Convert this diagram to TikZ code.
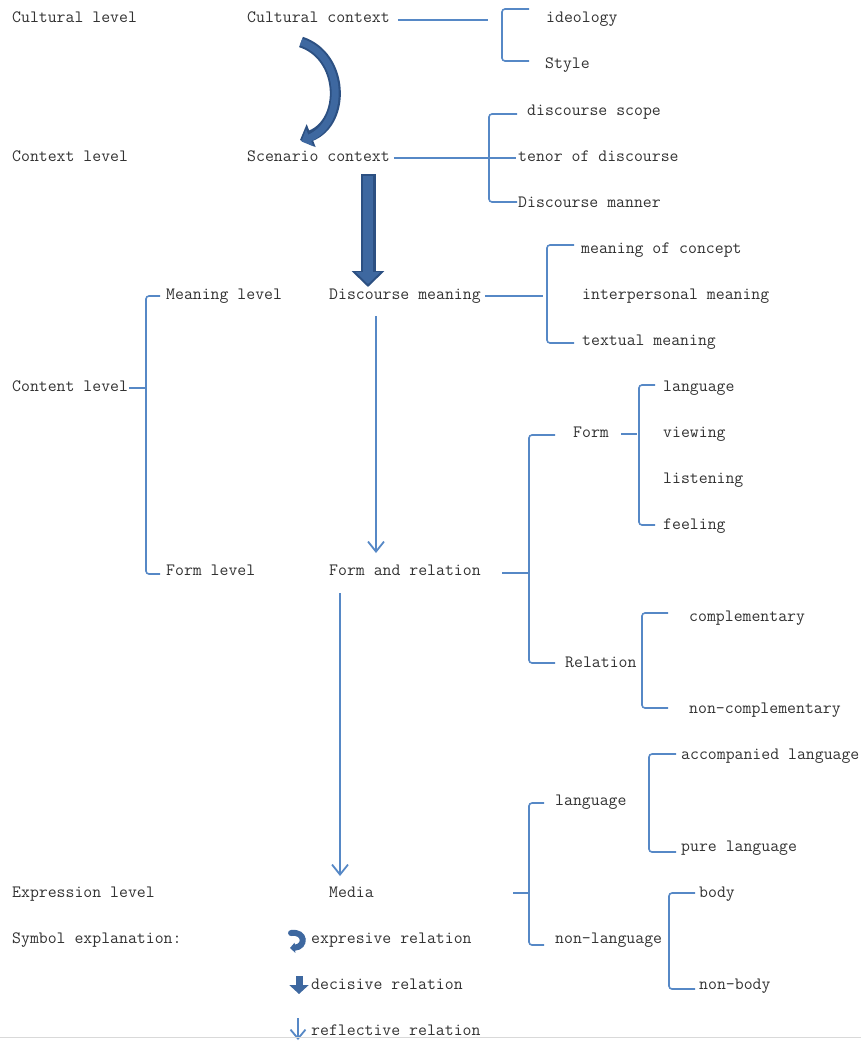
\documentclass[tikz,border=0pt]{standalone}
\usepackage{fontspec}
\usetikzlibrary{arrows.meta}
\definecolor{lb}{RGB}{86,136,198}
\definecolor{db}{RGB}{62,104,160}
\definecolor{dbo}{RGB}{44,80,130}
\definecolor{tx}{RGB}{50,50,50}
\tikzset{
 lbl/.style={anchor=west, inner sep=0pt, yshift=-1pt, text=tx, font=\ttfamily\fontsize{17.3}{17}\selectfont, text height=10.5pt, text depth=4.5pt},
 brk/.style={draw=lb, line width=1.6pt, rounded corners=3pt},
 conn/.style={draw=lb, line width=1.6pt},
 thinarrow/.style={draw=lb, line width=1.8pt, -{Straight Barb[length=10pt,width=16pt,line width=1.8pt]}},
 fatouter/.style={draw=dbo, line width=15pt, -{Triangle[length=16pt,width=32pt,fill=dbo]}},
 fatinner/.style={draw=db, line width=10pt, -{Triangle[length=12pt,width=24pt,fill=db]}},
 curveouter/.style={draw=dbo, line width=11pt, -{Triangle[length=12pt,width=24pt,fill=dbo]}},
 curveinner/.style={draw=db, line width=7pt, -{Triangle[length=9pt,width=18pt,fill=db]}},
}
\begin{document}
\begin{tikzpicture}[x=1pt,y=-1pt]
\useasboundingbox (0,0) rectangle (861,1041);
% labels
\node[lbl] (cl) at (12,19) {Cultural level};
\node[lbl] (cc) at (247,19) {Cultural context};
\node[lbl] (ideo) at (546,19) {ideology};
\node[lbl] (sty) at (545,65) {Style};
\node[lbl] (xl) at (12,157) {Context level};
\node[lbl] (sc) at (247,157) {Scenario context};
\node[lbl] (ds) at (527,111) {discourse scope};
\node[lbl] (td) at (518,157) {tenor of discourse};
\node[lbl] (dman) at (518,203) {Discourse manner};
\node[lbl] (ml) at (166,295) {Meaning level};
\node[lbl] (dm) at (329,295) {Discourse meaning};
\node[lbl] (moc) at (581,249) {meaning of concept};
\node[lbl] (ipm) at (582,295) {interpersonal meaning};
\node[lbl] (tm) at (582,341) {textual meaning};
\node[lbl] (col) at (12,387) {Content level};
\node[lbl] (fl) at (166,571) {Form level};
\node[lbl] (fr) at (329,571) {Form and relation};
\node[lbl] (form) at (573,433) {Form};
\node[lbl] (langa) at (663,387) {language};
\node[lbl] (view) at (663,433) {viewing};
\node[lbl] (list) at (663,479) {listening};
\node[lbl] (feel) at (663,525) {feeling};
\node[lbl] (rel) at (565,663) {Relation};
\node[lbl] (comp) at (689,617) {complementary};
\node[lbl] (ncomp) at (689,709) {non-complementary};
\node[lbl] (el) at (12,893) {Expression level};
\node[lbl] (med) at (329,893) {Media};
\node[lbl] (langb) at (555,801) {language};
\node[lbl] (nlang) at (555,939) {non-language};
\node[lbl] (acc) at (681,755) {accompanied language};
\node[lbl] (pure) at (681,847) {pure language};
\node[lbl] (body) at (699,893) {body};
\node[lbl] (nbody) at (699,985) {non-body};
\node[lbl] (se) at (12,939) {Symbol explanation:};
\node[lbl] (er) at (311,939) {expresive relation};
\node[lbl] (dr) at (311,985) {decisive relation};
\node[lbl] (rr) at (311,1031) {reflective relation};

% brackets
\draw[conn] ([xshift=8pt]cc.east) -- ++(90,0);
\draw[brk] (529,9) -- (502,9) -- (502,61) -- (529,61);

\draw[conn] ([xshift=4pt]sc.east) -- ++(122,0);
\draw[brk] (517,114) -- (489,114) -- (489,202) -- (517,202);

\draw[conn] ([xshift=4pt]dm.east) -- ++(58,0);
\draw[brk] (574,245) -- (547,245) -- (547,343) -- (574,343);

\draw[conn] ([xshift=1pt]col.east) -- ++(16,0);
\draw[brk] (160,296) -- (146,296) -- (146,574) -- (160,574);

\draw[brk] (555,435) -- (529,435) -- (529,663) -- (555,663);
\draw[conn] (502,573) -- (529,573);

\draw[conn] ([xshift=12pt]form.east) -- ++(16,0);
\draw[brk] (655,385) -- (639,385) -- (639,525) -- (655,525);

\draw[brk] (668,613) -- (642,613) -- (642,708) -- (668,708);

\draw[brk] (544,803) -- (529,803) -- (529,945) -- (544,945);
\draw[conn] (513,893) -- (529,893);

\draw[brk] (676,754) -- (649,754) -- (649,852) -- (676,852);
\draw[brk] (695,893) -- (669,893) -- (669,989) -- (695,989);

% relations
\coordinate (c1) at (301,42);
\coordinate (c2) at (300,140);
\draw[curveouter] (c1) .. controls (344,56) and (346,122) .. (c2);
\draw[curveinner] (c1) .. controls (344,56) and (346,122) .. ([shift={(1.5pt,-1.5pt)}]c2);

\coordinate (f1) at (368,174);
\coordinate (f2) at (368,287);
\draw[fatouter] (f1) -- (f2);
\draw[fatinner] ([yshift=-2pt]f1) -- ([yshift=3pt]f2);

\coordinate (t1) at (376,316);
\coordinate (t2) at (376,553);
\draw[thinarrow] (t1) -- (t2);
\coordinate (t3) at (340,593);
\coordinate (t4) at (340,876);
\draw[thinarrow] (t3) -- (t4);

% legend symbols
\draw[draw=db, line width=6pt, line cap=round, -{Triangle[length=5pt,width=10pt,fill=db]}] (291,933) .. controls (306,931) and (306,947) .. (290,948);
\draw[draw=db, line width=7pt, -{Triangle[length=9pt,width=19pt,fill=db]}] (299,976) -- (299,994);
\draw[draw=lb, line width=1.8pt, -{Straight Barb[length=9pt,width=15pt,line width=1.8pt]}] (298,1018) -- (298,1040);

\draw[gray!30, line width=0.8pt] (0,1037.5) -- (861,1037.5);
\end{tikzpicture}
\end{document}
